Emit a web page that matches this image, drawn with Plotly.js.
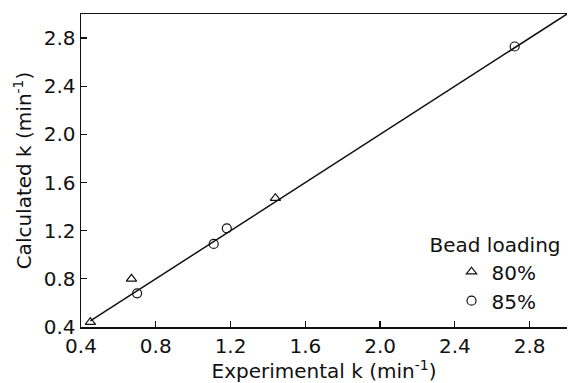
<!DOCTYPE html>
<html>
<head>
<meta charset="utf-8">
<script src="https://cdn.plot.ly/plotly-3.0.1.min.js"></script>
<style>
  html, body { margin: 0; padding: 0; background: #fff; }
  #chart { width: 568px; height: 383px; }
</style>
</head>
<body>
<div id="chart"></div>
<script>
// Bead loading 80%: experimental vs calculated rate constants
const exp80 = [0.45, 0.67, 1.44];
const calc80 = [0.44, 0.80, 1.47];

// Bead loading 85%
const exp85 = [0.70, 1.11, 1.18, 2.72];
const calc85 = [0.68, 1.09, 1.22, 2.73];

// Parity line (calculated = experimental)
const parityX = [0.45, 3.0];
const parityY = [0.45, 3.0];

const tickVals = [0.4, 0.8, 1.2, 1.6, 2.0, 2.4, 2.8];
const tickText = ['0.4', '0.8', '1.2', '1.6', '2.0', '2.4', '2.8'];

const font = { family: 'DejaVu Sans, Liberation Sans, Arial, sans-serif', color: '#111' };

const traces = [
  {
    x: parityX, y: parityY, mode: 'lines', showlegend: false,
    line: { color: '#111', width: 1.5 }, hoverinfo: 'skip'
  },
  {
    x: exp80, y: calc80, mode: 'markers', name: '80%',
    marker: { symbol: 'triangle-up-open', size: 9, color: '#111', line: { width: 1.2 } }
  },
  {
    x: exp85, y: calc85, mode: 'markers', name: '85%',
    marker: { symbol: 'circle-open', size: 9, color: '#111', line: { width: 1.2 } }
  }
];

const axisCommon = {
  tickvals: tickVals, ticktext: tickText,
  ticks: 'inside', ticklen: 6, tickwidth: 1.2, tickcolor: '#111',
  showline: true, linecolor: '#111', linewidth: 1.5,
  showgrid: false, zeroline: false,
  tickfont: { ...font, size: 20 }
};

const layout = {
  width: 568, height: 383,
  margin: { l: 81, r: 1, t: 14, b: 56 },
  paper_bgcolor: '#fff', plot_bgcolor: '#fff',
  font: font,
  xaxis: {
    ...axisCommon, range: [0.4, 3.0], mirror: true,
    title: { text: 'Experimental k (min<sup>-1</sup>)', font: { ...font, size: 20 }, standoff: 2 }
  },
  yaxis: {
    ...axisCommon, range: [0.4, 3.0],
    title: { text: 'Calculated k (min<sup>-1</sup>)', font: { ...font, size: 20 }, standoff: 6 }
  },
  legend: {
    title: { text: 'Bead loading', font: { ...font, size: 20 }, side: 'top' },
    font: { ...font, size: 20 },
    x: 0.713, y: 0.322, xanchor: 'left', yanchor: 'top',
    indentation: 24,
    bgcolor: 'rgba(0,0,0,0)', borderwidth: 0,
    tracegroupgap: 0
  },
  showlegend: true
};

Plotly.newPlot('chart', traces, layout, { displayModeBar: false, staticPlot: true });
</script>
</body>
</html>
